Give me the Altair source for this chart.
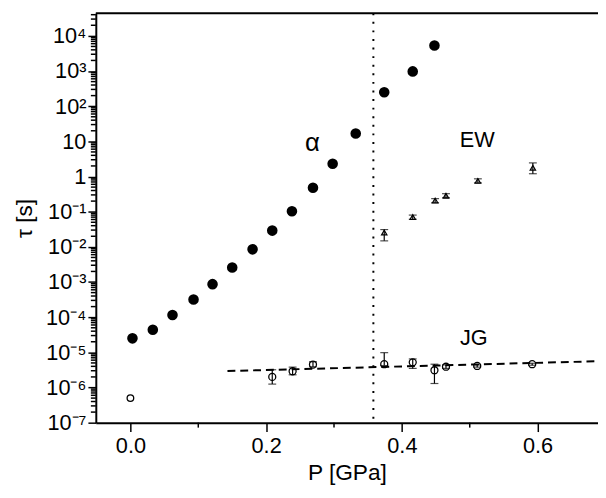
import altair as alt
import pandas as pd

# ---- data ----
alpha_P = [0.003, 0.033, 0.062, 0.093, 0.121, 0.150, 0.180, 0.209, 0.238, 0.269, 0.298, 0.332, 0.374, 0.416, 0.448]
alpha_tau = [2.5e-5, 4.4e-5, 1.15e-4, 3.2e-4, 8.7e-4, 2.6e-3, 8.5e-3, 2.9e-2, 0.103, 0.48, 2.3, 16.7, 250, 975, 5300]

open_P = [0.0]
open_tau = [5.0e-7]

ew_P = [0.374, 0.416, 0.449, 0.465, 0.512, 0.593]
ew_tau = [0.0255, 0.070, 0.206, 0.284, 0.75, 1.77]
ew_lo = [0.0148, 0.061, 0.18, 0.25, 0.66, 1.2]
ew_hi = [0.031, 0.080, 0.235, 0.325, 0.86, 2.44]

jg_P = [0.209, 0.239, 0.269, 0.374, 0.416, 0.448, 0.465, 0.511, 0.592]
jg_tau = [2.0e-6, 2.9e-6, 4.5e-6, 4.6e-6, 5.2e-6, 3.1e-6, 3.9e-6, 4.1e-6, 4.6e-6]
jg_lo = [1.25e-6, 2.3e-6, 3.9e-6, 4.2e-6, 3.5e-6, 1.3e-6, 3.5e-6, 3.8e-6, 4.3e-6]
jg_hi = [3.2e-6, 3.8e-6, 5.4e-6, 9.8e-6, 6.5e-6, 4.6e-6, 4.4e-6, 4.4e-6, 4.9e-6]

fit_P = [0.143, 0.69]
fit_tau = [2.94e-6, 5.6e-6]

divider_P = [0.358]

label_text = ["α", "EW", "JG"]
label_P = [0.268, 0.511, 0.506]
label_tau = [8.9, 11.1, 2.54e-5]
label_size = [26, 22, 22]

x_major = [0.0, 0.2, 0.4, 0.6]
x_minor = [0.1, 0.3, 0.5]
y_exps = list(range(-7, 5))
y_label_text = ["10⁻⁷", "10⁻⁶", "10⁻⁵", "10⁻⁴", "10⁻³", "10⁻²", "10⁻¹", "1", "10", "10²", "10³", "10⁴"]
y_major = [10.0 ** e for e in y_exps]
y_minor = [m * 10.0 ** e for e in y_exps for m in range(2, 10) if m * 10.0 ** e < 4.4e4]

# ---- frames ----
alpha_df = pd.DataFrame({"P": alpha_P, "tau": alpha_tau})
open_df = pd.DataFrame({"P": open_P, "tau": open_tau})
ew_df = pd.DataFrame({"P": ew_P, "tau": ew_tau, "lo": ew_lo, "hi": ew_hi})
jg_df = pd.DataFrame({"P": jg_P, "tau": jg_tau, "lo": jg_lo, "hi": jg_hi})
fit_df = pd.DataFrame({"P": fit_P, "tau": fit_tau})
div_df = pd.DataFrame({"P": divider_P})
lab_df = pd.DataFrame({"P": label_P, "tau": label_tau, "t": label_text, "s": label_size})
xminor_df = pd.DataFrame({"P": x_minor})
yminor_df = pd.DataFrame({"tau": y_minor})

FONT = "Liberation Sans"
W, H = 509, 415

xscale = alt.Scale(domain=[-0.051, 0.689], nice=False, zero=False)
yscale = alt.Scale(type="log", domain=[1e-7, 4.4e4], nice=False)

L = "(log(datum.value)/LN10)"
expr = "''"
for e, t in zip(reversed(y_exps), reversed(y_label_text)):
    expr = f"round({L}) == {e} ? '{t}' : ({expr})"

xaxis = alt.Axis(
    values=x_major,
    format=".1f",
    tickSize=9,
    labelPadding=4,
    labelOverlap=False,
    labelFlush=False,
    title="P [GPa]",
    titleY=40,
    titleBaseline="top",
    grid=False,
)
yaxis = alt.Axis(
    values=y_major,
    labelExpr=expr,
    tickSize=8,
    labelPadding=2,
    labelOverlap=False,
    labelFlush=False,
    title="τ [s]",
    titleX=-72,
    titleY=H / 2,
    titleAlign="center",
    titleBaseline="middle",
    grid=False,
)

X = alt.X("P:Q", scale=xscale, axis=xaxis)
Y = alt.Y("tau:Q", scale=yscale, axis=yaxis)

divider = alt.Chart(div_df).mark_rule(color="black", strokeWidth=2, strokeDash=[2, 6.7]).encode(x=X)
fit = alt.Chart(fit_df).mark_line(color="black", strokeWidth=2, strokeDash=[8, 5]).encode(x=X, y=Y)

def errbars(df, cap):
    bars = alt.Chart(df).mark_rule(color="black", strokeWidth=1.2).encode(
        x=X, y=alt.Y("lo:Q", scale=yscale, axis=yaxis), y2="hi:Q")
    lo = alt.Chart(df).mark_tick(color="black", orient="horizontal", size=cap, thickness=1.2).encode(
        x=X, y=alt.Y("lo:Q", scale=yscale, axis=yaxis))
    hi = alt.Chart(df).mark_tick(color="black", orient="horizontal", size=cap, thickness=1.2).encode(
        x=X, y=alt.Y("hi:Q", scale=yscale, axis=yaxis))
    return bars + lo + hi

jg_err = errbars(jg_df, 8)
ew_err = errbars(ew_df, 8)

alpha_pts = alt.Chart(alpha_df).mark_point(shape="circle", filled=True, color="black", size=115, opacity=1).encode(x=X, y=Y)
open_pts = alt.Chart(open_df).mark_point(shape="circle", filled=False, color="black", size=45, strokeWidth=1.3, opacity=1).encode(x=X, y=Y)
jg_pts = alt.Chart(jg_df).mark_point(shape="circle", filled=False, color="black", size=50, strokeWidth=1.3, opacity=1).encode(x=X, y=Y)
ew_pts = alt.Chart(ew_df).mark_point(shape="triangle-up", filled=False, color="black", size=30, strokeWidth=1.2, opacity=1).encode(x=X, y=Y)

labels = alt.Chart(lab_df).mark_text(font=FONT, color="black", align="center", baseline="middle").encode(
    x=X, y=Y, text="t:N", size=alt.Size("s:Q", scale=None, legend=None))

# minor ticks of the axes, placed through the same scales
x_minor_ticks = alt.Chart(xminor_df).mark_rule(color="black", strokeWidth=1.5).encode(
    x=X, y=alt.value(H), y2=alt.value(H + 5))
y_minor_ticks = alt.Chart(yminor_df).mark_rule(color="black", strokeWidth=1.5).encode(
    y=Y, x=alt.value(-5), x2=alt.value(0))

top_line = alt.Chart(div_df).mark_rule(color="black", strokeWidth=2).encode(
    x=alt.value(0), x2=alt.value(W), y=alt.value(0))

chart = alt.layer(
    divider, fit, jg_err, ew_err, alpha_pts, open_pts, jg_pts, ew_pts, labels,
    x_minor_ticks, y_minor_ticks, top_line
).properties(
    width=W, height=H,
    autosize=alt.AutoSizeParams(type="none"),
    padding={"left": 89, "top": 2, "right": 0, "bottom": 70},
).configure_view(stroke=None).configure_axis(
    labelFont=FONT, labelFontSize=22, labelColor="black",
    titleFont=FONT, titleFontSize=23, titleColor="black", titleFontWeight="normal",
    domainColor="black", domainWidth=2, tickColor="black", tickWidth=1.5,
)

chart.save("out.html", embed_options={"renderer": "svg", "actions": False})
